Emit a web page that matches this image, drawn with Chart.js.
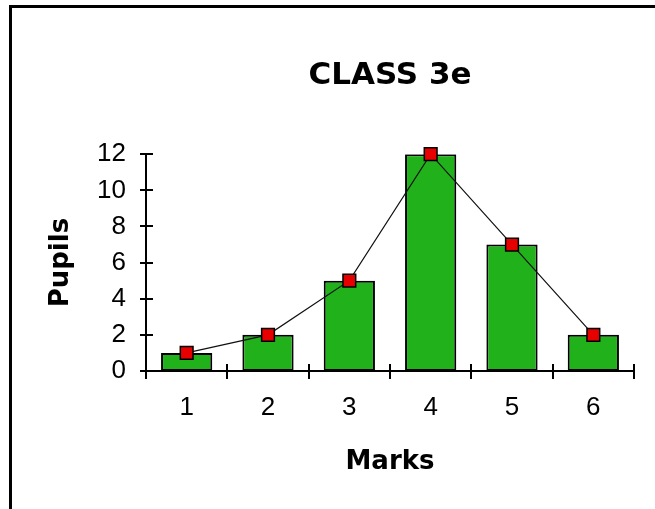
<!DOCTYPE html>
<html>
<head>
<meta charset="utf-8">
<script src="https://cdn.jsdelivr.net/npm/chart.js@4"></script>
<style>
  html, body { margin: 0; padding: 0; background: #fff; }
  #frame {
    position: absolute; left: 9px; top: 5px; width: 646px; height: 504px;
    border-top: 3px solid #000; border-left: 3px solid #000;
  }
  #chart { position: absolute; left: 0; top: 0; }
</style>
</head>
<body>
<div id="frame"></div>
<canvas id="chart" width="655" height="509"></canvas>
<script>
// data
const marks = ['1', '2', '3', '4', '5', '6'];
const pupils = [1, 2, 5, 12, 7, 2];
const yTicks = [0, 2, 4, 6, 8, 10, 12];

const green = '#21b21b';

// draws the little cross ticks on both axes (they cross the axis line)
const crossTicks = {
    id: 'crossTicks',
    afterDraw(chart) {
        const ctx = chart.ctx;
        const x = chart.scales.x, y = chart.scales.y;
        const ax = chart.chartArea.left, ay = chart.chartArea.bottom;
        ctx.save();
        ctx.strokeStyle = '#000';
        ctx.lineWidth = 2;
        ctx.beginPath();
        yTicks.forEach(v => {
            const py = Math.round(y.getPixelForValue(v));
            ctx.moveTo(ax - 6, py);
            ctx.lineTo(ax + 7, py);
        });
        for (let i = 0; i <= marks.length; i++) {
            const px = Math.round(x.getPixelForValue(i - 0.5));
            ctx.moveTo(px, ay - 7);
            ctx.lineTo(px, ay + 8);
        }
        ctx.stroke();
        ctx.restore();
    }
};

new Chart(document.getElementById('chart'), {
    type: 'bar',
    data: {
        labels: marks,
        datasets: [
            {
                type: 'line',
                data: pupils,
                order: 0,
                borderColor: '#111',
                borderWidth: 1.2,
                pointStyle: 'rect',
                pointRadius: 9,
                pointBackgroundColor: '#e60000',
                pointBorderColor: '#000',
                pointBorderWidth: 1.5,
                clip: false
            },
            {
                data: pupils,
                order: 1,
                backgroundColor: green,
                borderColor: '#000',
                borderWidth: 2,
                borderSkipped: false,
                barPercentage: 0.63,
                categoryPercentage: 1
            }
        ]
    },
    options: {
        responsive: false,
        animation: false,
        layout: { padding: { left: 12, top: 8, right: 21, bottom: 0 } },
        plugins: {
            legend: { display: false },
            tooltip: { enabled: false },
            title: {
                display: true,
                text: 'CLASS 3e',
                color: '#000',
                fullSize: false,
                font: { family: "'DejaVu Sans'", size: 31, weight: 'bold' },
                padding: { top: 49, bottom: 60 }
            }
        },
        scales: {
            x: {
                offset: true,
                grid: { display: false },
                border: { display: true, color: '#000', width: 2 },
                ticks: {
                    color: '#000',
                    padding: 13,
                    font: { family: "'Liberation Sans'", size: 26 }
                },
                title: {
                    display: true,
                    text: 'Marks',
                    color: '#000',
                    font: { family: "'DejaVu Sans'", size: 26, weight: 'bold' },
                    padding: { top: 0, bottom: 31 }
                },
                afterFit(scale) { scale.height = 138; }
            },
            y: {
                min: 0,
                max: 12,
                grid: { display: false },
                border: { display: true, color: '#000', width: 2 },
                ticks: {
                    stepSize: 2,
                    color: '#000',
                    padding: 12,
                    font: { family: "'Liberation Sans'", size: 26 }
                },
                title: {
                    display: true,
                    text: 'Pupils',
                    color: '#000',
                    font: { family: "'DejaVu Sans'", size: 26, weight: 'bold' },
                    padding: { top: 34, bottom: 0 }
                },
                afterFit(scale) { scale.width = 134; }
            }
        }
    },
    plugins: [crossTicks]
});
</script>
</body>
</html>
